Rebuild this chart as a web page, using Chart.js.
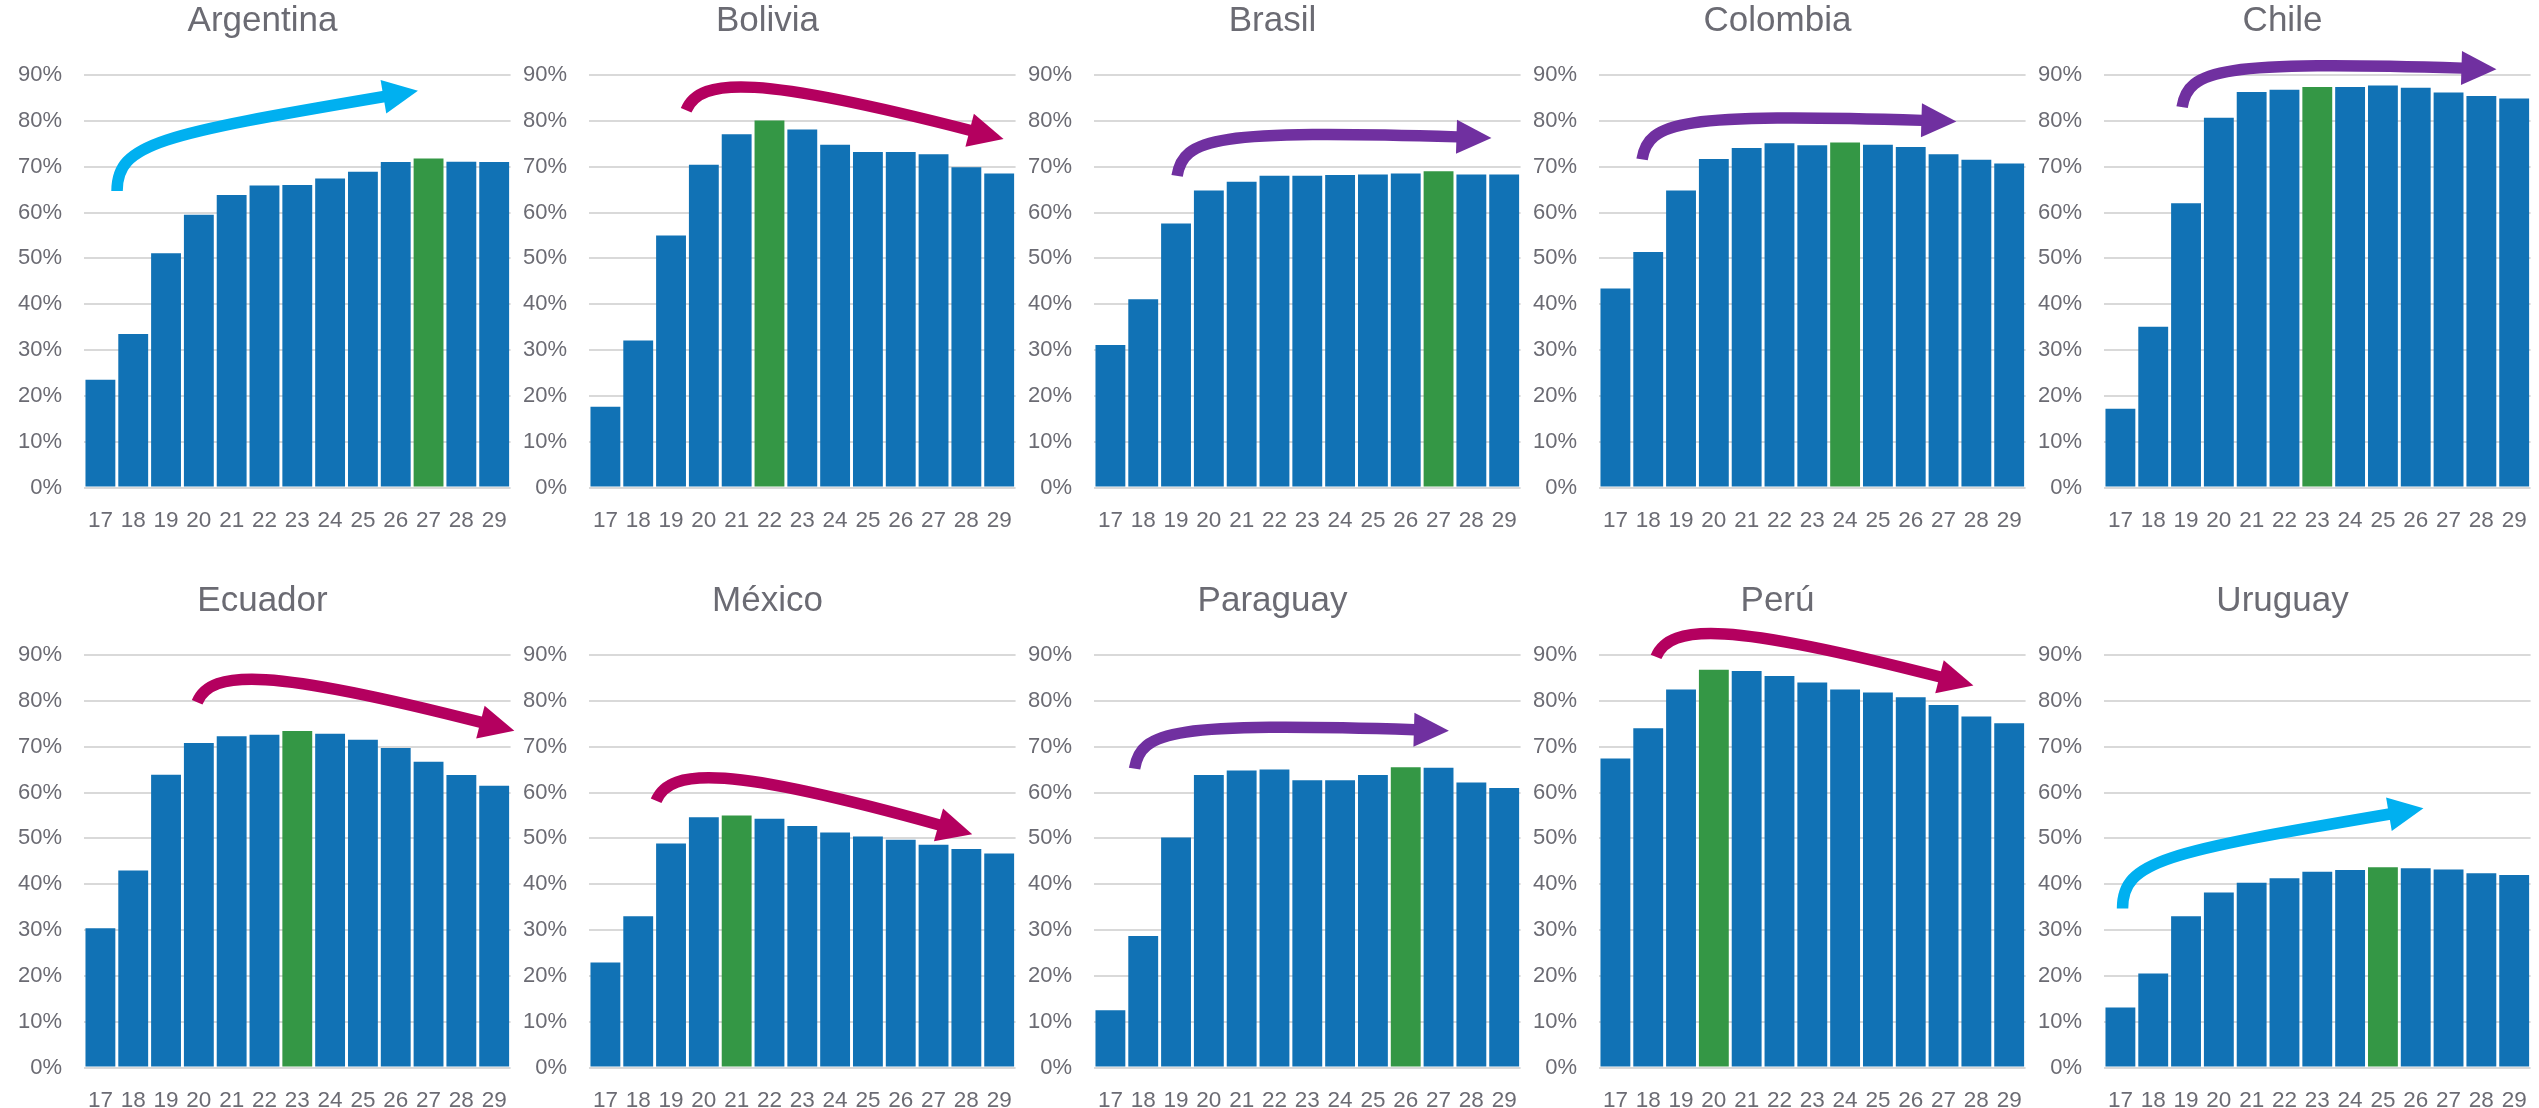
<!DOCTYPE html>
<html lang="es">
<head>
<meta charset="utf-8">
<title>Tasa por edad, 17 a 29 años</title>
<script src="https://cdn.jsdelivr.net/npm/chart.js@4.4.1/dist/chart.umd.min.js"></script>
<style>
  html, body { margin: 0; padding: 0; background: #fff; }
  body { width: 2539px; height: 1108px; overflow: hidden; position: relative; }
  canvas { position: absolute; }
</style>
</head>
<body>
<script>
// ages on the x axis
const ages = ["17", "18", "19", "20", "21", "22", "23", "24", "25", "26", "27", "28", "29"];

// share by age (%)
const argentina = [23.5, 33.5, 51.1, 59.5, 63.8, 65.9, 66.0, 67.4, 68.9, 71.0, 71.8, 71.1, 71.0];
const bolivia   = [17.6, 32.1, 55.0, 70.4, 77.1, 80.1, 78.1, 74.8, 73.2, 73.2, 72.7, 69.9, 68.5];
const brasil    = [31.1, 41.1, 57.6, 64.8, 66.7, 68.0, 68.0, 68.2, 68.3, 68.5, 69.0, 68.3, 68.3];
const colombia  = [43.4, 51.4, 64.8, 71.7, 74.1, 75.1, 74.7, 75.3, 74.8, 74.3, 72.7, 71.5, 70.7];
const chile     = [17.2, 35.1, 62.0, 80.7, 86.3, 86.8, 87.4, 87.4, 87.7, 87.2, 86.2, 85.4, 84.9];
const ecuador   = [30.4, 43.0, 63.9, 70.8, 72.3, 72.6, 73.4, 72.8, 71.5, 69.7, 66.7, 63.8, 61.5];
const mexico    = [22.9, 33.0, 48.9, 54.6, 55.0, 54.3, 52.7, 51.3, 50.4, 49.7, 48.6, 47.7, 46.7];
const paraguay  = [12.5, 28.7, 50.2, 63.8, 64.8, 65.0, 62.7, 62.7, 63.8, 65.5, 65.4, 62.2, 61.0];
const peru      = [67.4, 74.0, 82.5, 86.8, 86.5, 85.4, 84.0, 82.5, 81.8, 80.8, 79.1, 76.6, 75.1];
const uruguay   = [13.1, 20.5, 33.0, 38.2, 40.3, 41.3, 42.7, 43.1, 43.7, 43.5, 43.2, 42.4, 42.0];

// y axis ticks (%)
const yTicks = [0, 10, 20, 30, 40, 50, 60, 70, 80, 90];

const BLUE = "#1172B5";
const GREEN = "#349745";
const TEXT = "#6b6b73";
const GRID = "#D9D9D9";
const TREND = { rise: "#00B0F0", fall: "#B4005F", flat: "#7030A0" };

// trend arrows, in data units: [category index, value %] for start, two controls, end
const panels = [
  { name: "Argentina", values: argentina, peak: "27", trend: "rise",
    path: [[0.507, 64.7], [0.507, 75.1], [1.819, 77.0], [8.655, 85.3]] },
  { name: "Bolivia", values: bolivia, peak: "22", trend: "fall",
    path: [[2.46, 82.3], [2.887, 89.7], [4.718, 89.7], [11.13, 77.9]] },
  { name: "Brasil", values: brasil, peak: "27", trend: "flat",
    path: [[2.033, 68.0], [2.216, 76.3], [3.192, 78.1], [10.577, 76.5]] },
  { name: "Colombia", values: colombia, peak: "24", trend: "flat",
    path: [[0.812, 71.6], [0.995, 79.9], [1.971, 81.7], [9.356, 80.1]] },
  { name: "Chile", values: chile, peak: "23", trend: "flat",
    path: [[1.88, 83.0], [2.063, 91.3], [3.039, 93.1], [10.424, 91.5]] },
  { name: "Ecuador", values: ecuador, peak: "23", trend: "fall",
    path: [[2.948, 79.7], [3.375, 87.0], [5.206, 87.0], [11.61, 75.3]] },
  { name: "México", values: mexico, peak: "21", trend: "fall",
    path: [[1.545, 58.2], [1.972, 65.6], [3.803, 65.6], [10.18, 52.9]] },
  { name: "Paraguay", values: paraguay, peak: "26", trend: "flat",
    path: [[0.736, 65.2], [0.919, 73.5], [1.895, 75.3], [9.28, 73.7]] },
  { name: "Perú", values: peru, peak: "20", trend: "fall",
    path: [[1.239, 89.6], [1.667, 97.0], [3.498, 97.0], [9.906, 85.2]] },
  { name: "Uruguay", values: uruguay, peak: "25", trend: "rise",
    path: [[0.065, 34.7], [0.065, 45.1], [1.377, 47.0], [8.213, 55.3]] },
];

Chart.defaults.font.family = "'Liberation Sans', Arial, sans-serif";
Chart.defaults.color = TEXT;

/**
 * draws the curved trend arrow of a panel over the bars
 */
const trendArrow = {
  id: "trendArrow",
  afterDatasetsDraw(chart, args, opts) {
    if (!opts.path) return;
    const { x, y } = chart.scales;
    const [s, c1, c2, e] = opts.path.map(([i, v]) => [x.getPixelForValue(i), y.getPixelForValue(v)]);
    const ctx = chart.ctx;
    ctx.save();
    ctx.strokeStyle = opts.color;
    ctx.fillStyle = opts.color;
    ctx.lineWidth = 11.5;
    ctx.beginPath();
    ctx.moveTo(s[0], s[1]);
    ctx.bezierCurveTo(c1[0], c1[1], c2[0], c2[1], e[0], e[1]);
    ctx.stroke();

    let dx = e[0] - c2[0];
    let dy = e[1] - c2[1];
    const len = Math.hypot(dx, dy);
    dx /= len;
    dy /= len;
    const head = 35, half = 17;
    const bx = e[0] - dx, by = e[1] - dy;
    ctx.beginPath();
    ctx.moveTo(bx + dx * head, by + dy * head);
    ctx.lineTo(bx - dy * half, by + dx * half);
    ctx.lineTo(bx + dy * half, by - dx * half);
    ctx.closePath();
    ctx.fill();
    ctx.restore();
  },
};

function makePanel(panel, n) {
  const col = n % 5;
  const row = Math.floor(n / 5);
  const canvas = document.createElement("canvas");
  canvas.width = 505;
  canvas.height = 528;
  canvas.style.left = (14 + 505 * col) + "px";
  canvas.style.top = (row * 580) + "px";
  document.body.appendChild(canvas);

  new Chart(canvas, {
    type: "bar",
    data: {
      labels: ages,
      datasets: [{
        data: panel.values,
        backgroundColor: ages.map((a) => (a === panel.peak ? GREEN : BLUE)),
        categoryPercentage: 1,
        barPercentage: 0.91,
      }],
    },
    options: {
      responsive: false,
      animation: false,
      devicePixelRatio: 1,
      layout: { padding: { top: 0, left: 0, right: 8, bottom: 0 } },
      plugins: {
        legend: { display: false },
        tooltip: { enabled: false },
        title: {
          display: true,
          text: panel.name,
          color: TEXT,
          font: { size: 35, weight: "normal" },
          padding: { top: 0.5, bottom: 32.5 },
        },
        trendArrow: { path: panel.path, color: TREND[panel.trend] },
      },
      scales: {
        x: {
          grid: { display: false },
          border: { display: false },
          ticks: { color: TEXT, font: { size: 22.5 }, padding: 12, autoSkip: false, maxRotation: 0 },
          afterFit(scale) { scale.height = 40.5; },
        },
        y: {
          min: 0,
          max: 90,
          grid: { color: GRID, lineWidth: 2, drawTicks: false },
          border: { display: false },
          afterBuildTicks(scale) { scale.ticks = yTicks.map((v) => ({ value: v })); },
          ticks: { color: TEXT, font: { size: 22 }, padding: 22, callback: (v) => v + "%" },
          afterFit(scale) { scale.width = 70; },
        },
      },
    },
    plugins: [trendArrow],
  });
}

panels.forEach(makePanel);
</script>
</body>
</html>
